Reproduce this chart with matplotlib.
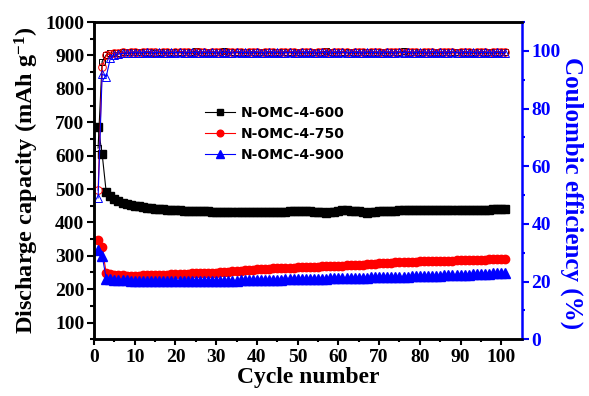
import matplotlib.pyplot as plt
import numpy as np

plt.rcParams['font.family'] = 'Liberation Serif'
plt.rcParams['font.weight'] = 'bold'
plt.rcParams['axes.labelweight'] = 'bold'
plt.rcParams['mathtext.default'] = 'regular'

cycles = np.arange(1, 102)

# discharge capacity (mAh/g)
cap_600 = [685, 605, 490, 478, 470, 463, 458, 455, 452, 450,
           448, 446, 444, 442, 441, 440, 439, 437, 437, 436,
           436, 435, 435, 434, 434, 433, 433, 433, 432, 432,
           432, 431, 431, 431, 431, 431, 431, 430, 430, 430,
           431, 431, 431, 432, 432, 432, 432, 433, 433, 433,
           434, 434, 433, 432, 431, 430, 429, 430, 432, 434,
           436, 436, 435, 434, 433, 430, 429, 430, 432, 434,
           434, 433, 434, 435, 436, 437, 437, 436, 436, 436,
           437, 437, 437, 438, 438, 438, 437, 436, 436, 436,
           437, 437, 437, 438, 438, 438, 438, 439, 439, 440, 440]
cap_750 = [348, 325, 248, 245, 243, 242, 242, 241, 241, 241,
           241, 242, 242, 243, 243, 243, 244, 244, 245, 245,
           245, 246, 246, 247, 247, 247, 248, 248, 248, 249,
           250, 251, 252, 253, 254, 255, 256, 257, 258, 259,
           260, 261, 261, 262, 262, 263, 263, 264, 264, 265,
           265, 266, 266, 267, 267, 268, 268, 269, 269, 270,
           270, 271, 271, 272, 273, 273, 274, 275, 276, 277,
           278, 278, 279, 280, 280, 281, 281, 282, 282, 283,
           283, 283, 284, 284, 284, 285, 285, 285, 286, 286,
           287, 287, 287, 288, 288, 288, 289, 289, 290, 290, 290]
cap_900 = [318, 300, 232, 230, 229, 228, 227, 227, 226, 226,
           226, 225, 225, 225, 225, 224, 224, 224, 224, 224,
           224, 224, 224, 224, 224, 225, 225, 225, 225, 225,
           225, 226, 226, 226, 226, 227, 227, 227, 228, 228,
           228, 228, 229, 229, 229, 229, 230, 230, 230, 230,
           231, 231, 231, 232, 232, 232, 232, 233, 233, 233,
           233, 234, 234, 234, 235, 235, 235, 236, 236, 236,
           236, 237, 237, 237, 238, 238, 238, 239, 239, 240,
           240, 240, 241, 241, 241, 242, 242, 243, 243, 244,
           244, 244, 245, 245, 246, 246, 246, 247, 247, 248, 248]

# coulombic efficiency (%)
ce_600 = [66.3, 96.3, 98.6, 99.1, 99.3, 99.4, 99.5, 99.6, 99.5, 99.7,
          99.6, 99.5, 99.7, 99.6, 99.4, 99.6, 99.7, 99.5, 99.6, 99.5,
          99.7, 99.6, 99.5, 99.6, 99.8, 99.6, 99.5, 99.7, 99.6, 99.5,
          99.6, 99.9, 99.6, 99.5, 99.7, 99.6, 99.5, 99.6, 99.7, 99.6,
          99.5, 99.6, 99.7, 99.5, 99.6, 99.6, 99.7, 99.5, 99.6, 99.7,
          99.6, 99.5, 99.7, 99.6, 99.5, 99.6, 99.8, 99.6, 99.5, 99.7,
          99.6, 99.5, 99.6, 99.7, 99.6, 99.5, 99.6, 99.7, 99.5, 99.6,
          99.7, 99.6, 99.5, 99.7, 99.6, 99.8, 99.6, 99.5, 99.6, 99.7,
          99.6, 99.5, 99.7, 99.6, 99.5, 99.6, 99.7, 99.6, 99.5, 99.6,
          99.7, 99.6, 99.5, 99.6, 99.7, 99.6, 99.5, 99.6, 99.7, 99.6, 99.6]
ce_750 = [51.7, 94.4, 98.4, 99.0, 99.2, 99.3, 99.5, 99.4, 99.6, 99.5,
          99.4, 99.6, 99.5, 99.7, 99.5, 99.4, 99.6, 99.5, 99.4, 99.6,
          99.5, 99.7, 99.5, 99.4, 99.6, 99.5, 99.6, 99.4, 99.5, 99.6,
          99.5, 99.4, 99.6, 99.5, 99.7, 99.5, 99.4, 99.6, 99.5, 99.6,
          99.4, 99.5, 99.6, 99.5, 99.4, 99.6, 99.5, 99.7, 99.5, 99.4,
          99.6, 99.5, 99.6, 99.4, 99.5, 99.6, 99.5, 99.4, 99.6, 99.5,
          99.7, 99.5, 99.4, 99.6, 99.5, 99.6, 99.4, 99.5, 99.6, 99.5,
          99.4, 99.6, 99.5, 99.7, 99.5, 99.4, 99.6, 99.5, 99.6, 99.4,
          99.5, 99.6, 99.5, 99.4, 99.6, 99.5, 99.7, 99.5, 99.4, 99.6,
          99.5, 99.6, 99.4, 99.5, 99.6, 99.5, 99.4, 99.6, 99.5, 99.6, 99.5]
ce_900 = [49.0, 92.0, 91.0, 97.5, 98.5, 98.9, 99.1, 99.2, 99.3, 99.4,
          99.3, 99.4, 99.5, 99.3, 99.4, 99.5, 99.4, 99.3, 99.5, 99.4,
          99.5, 99.3, 99.4, 99.5, 99.4, 99.3, 99.5, 99.4, 99.5, 99.3,
          99.4, 99.5, 99.4, 99.3, 99.5, 99.4, 99.5, 99.3, 99.4, 99.5,
          99.4, 99.3, 99.5, 99.4, 99.5, 99.3, 99.4, 99.5, 99.4, 99.3,
          99.5, 99.4, 99.5, 99.3, 99.4, 99.5, 99.4, 99.3, 99.5, 99.4,
          99.5, 99.3, 99.4, 99.5, 99.4, 99.3, 99.5, 99.4, 99.5, 99.3,
          99.4, 99.5, 99.4, 99.3, 99.5, 99.4, 99.5, 99.3, 99.4, 99.5,
          99.4, 99.3, 99.5, 99.4, 99.5, 99.3, 99.4, 99.5, 99.4, 99.3,
          99.5, 99.4, 99.5, 99.3, 99.4, 99.5, 99.4, 99.3, 99.5, 99.4, 99.4]

labels = ['N-OMC-4-600', 'N-OMC-4-750', 'N-OMC-4-900']
colors = ['black', 'red', 'blue']
markers = ['s', 'o', '^']
msizes = [5.5, 6, 6.5]

fig = plt.figure(figsize=(5.89, 3.96), dpi=100)
ax = fig.add_axes([0.1596, 0.1432, 0.7261, 0.8012])
ax2 = ax.twinx()

for y, c, m, ms, lab in zip([cap_600, cap_750, cap_900], colors, markers, msizes, labels):
    ax.plot(cycles, y, color=c, marker=m, ms=ms, lw=0.8, label=lab)

for y, c, m, ms in zip([ce_600, ce_750, ce_900], colors, markers, msizes):
    ax2.plot(cycles, y, color=c, marker=m, ms=ms - 0.5, lw=0.8, mfc='none', mec=c, mew=0.7)

ax.set_xlim(0, 105)
ax.set_ylim(50, 1000)
ax2.set_ylim(0, 110)
ax.set_xticks(range(0, 101, 10))
ax.set_xticks(range(5, 105, 10), minor=True)
ax.set_yticks(range(100, 1001, 100))
ax.set_yticks(range(50, 1000, 100), minor=True)
ax2.set_yticks(range(0, 101, 20))
ax2.set_yticks(range(10, 111, 20), minor=True)

ax.tick_params(axis='x', which='major', length=4, width=1.5, labelsize=14, pad=3)
ax.tick_params(axis='x', which='minor', length=2.5, width=1.5)
ax.tick_params(axis='y', which='major', length=5, width=1.5, labelsize=14, pad=2)
ax.tick_params(axis='y', which='minor', length=3, width=1.5)
ax2.tick_params(axis='y', which='major', length=5, width=1.5, labelsize=14, pad=2,
                colors='blue')
ax2.tick_params(axis='y', which='minor', length=2.5, width=1.5, colors='blue')

for s in ['left', 'bottom', 'top']:
    ax.spines[s].set_linewidth(1.8)
    ax2.spines[s].set_linewidth(1.8)
ax2.spines['right'].set_linewidth(1.8)
ax2.spines['right'].set_color('blue')
ax.spines['right'].set_visible(False)

ax.set_xlabel('Cycle number', fontsize=17, labelpad=1)
ax.set_ylabel('Discharge capacity (mAh g$^{-1}$)', fontsize=17.5, labelpad=3)
ax2.set_ylabel('Coulombic efficiency (%)', fontsize=18, color='blue',
               rotation=270, labelpad=17)
ax2.yaxis.set_label_coords(1.145, 0.46)

ax.legend(loc='upper left', bbox_to_anchor=(0.23, 0.775), frameon=False,
          prop={'family': 'DejaVu Sans', 'weight': 'bold', 'size': 10},
          handlelength=2.2, handletextpad=0.4, labelspacing=0.5, markerscale=0.8)

fig.savefig('out.png', dpi=100)
